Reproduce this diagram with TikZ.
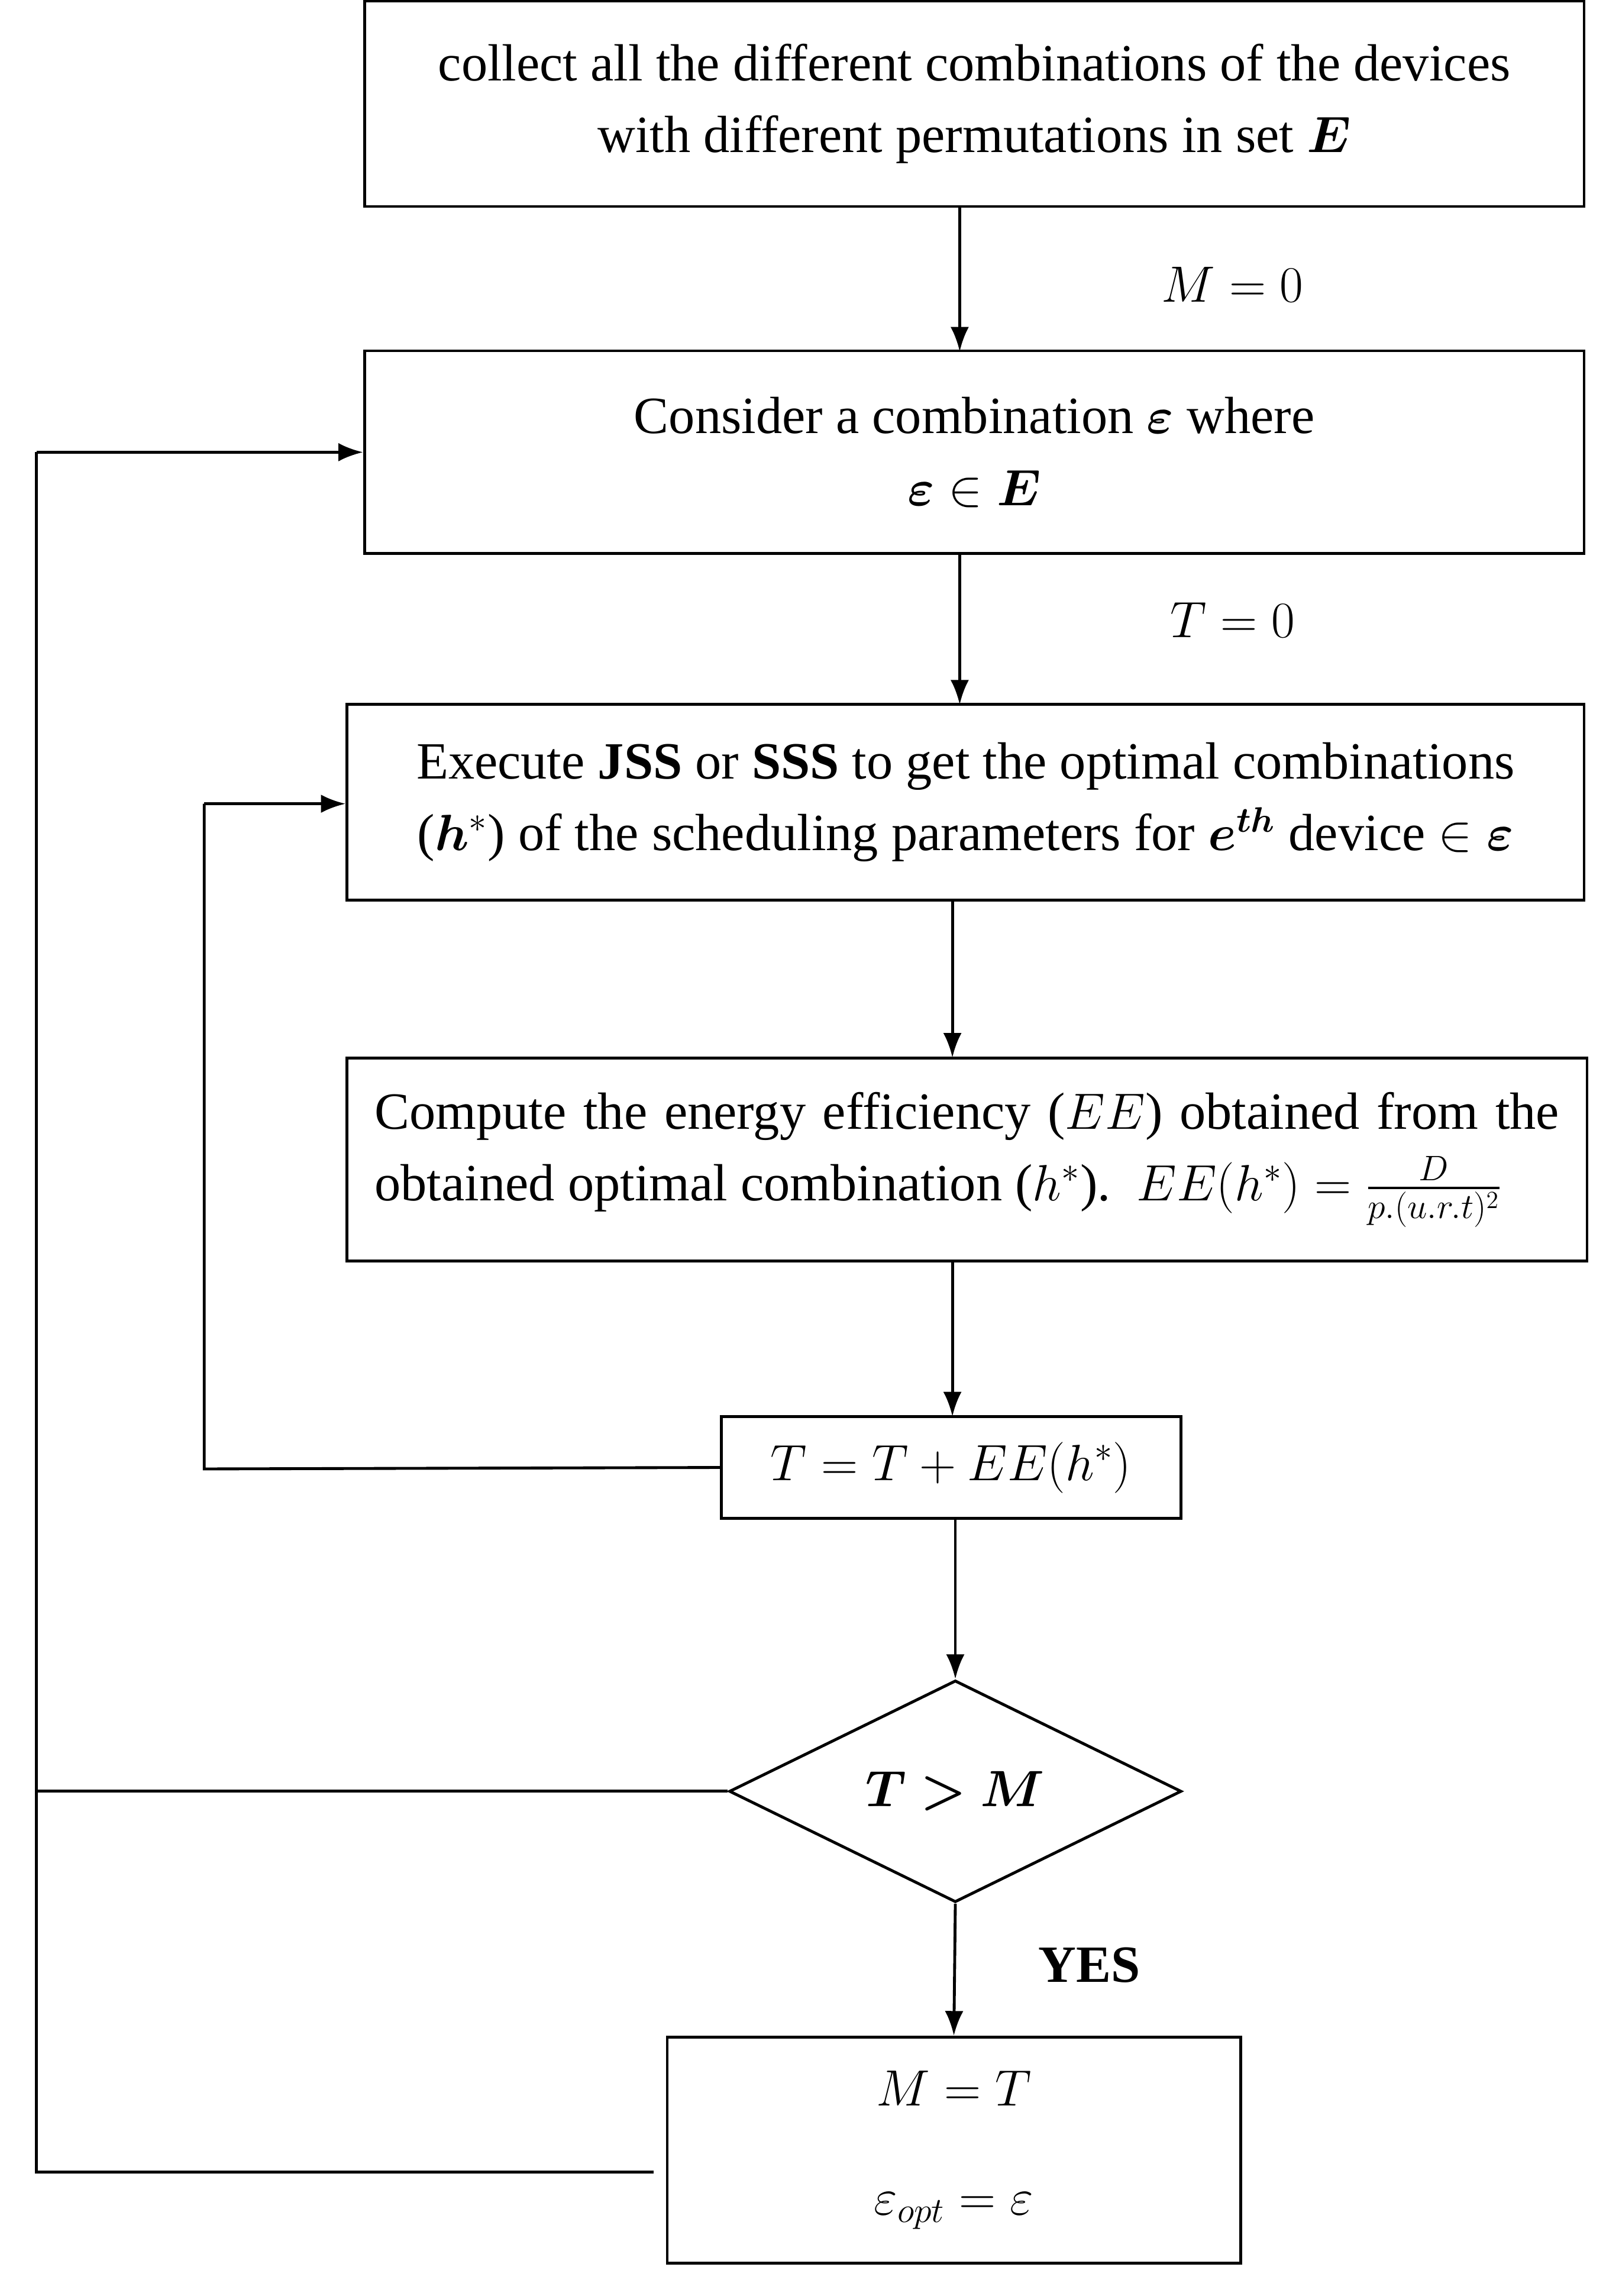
\documentclass[tikz,border=0pt]{standalone}
\usepackage{fontspec}
\usepackage{amsmath,bm}
\setmainfont{Liberation Serif}
\usetikzlibrary{shapes.geometric,arrows.meta}
\begin{document}
\begin{tikzpicture}[x=0.025cm,y=-0.025cm,
  box/.style={draw,line width=1.4pt,inner sep=0pt,align=center,font=\fontsize{25.5}{35}\selectfont},
  arr/.style={line width=1.4pt,-{Latex[length=12pt,width=9pt]}},
  ln/.style={line width=1.4pt},
  lab/.style={font=\fontsize{25.5}{30}\selectfont}]
\useasboundingbox (0,0) rectangle (1110,1574);
\node[box,minimum width=20.9cm,minimum height=3.525cm] (b1) at (668,71)
  {collect all the different combinations of the devices\\with different permutations in set $\bm{E}$};
\node[box,minimum width=20.9cm,minimum height=3.475cm] (b2) at (668,310)
  {Consider a combination $\bm{\varepsilon}$ where\\$\bm{\varepsilon}\in\bm{E}$};
\node[box,minimum width=21.2cm,minimum height=3.35cm] (b3) at (662,550)
  {Execute \textbf{JSS} or \textbf{SSS} to get the optimal combinations\\($\bm{h}^{*}$) of the scheduling parameters for $\bm{e}^{\bm{th}}$ device $\in\bm{\varepsilon}$};
\node[box,minimum width=21.25cm,minimum height=3.475cm,text width=20.3cm,align=justify] (b4) at (663,795)
  {\hyphenpenalty=10000 Compute the energy efficiency ($EE$) obtained from the obtained optimal combination ($h^{*}$).\ \ $EE(h^{*})=\frac{D}{p.(u.r.t)^{2}}$};
\node[box,minimum width=7.875cm,minimum height=1.75cm] (b5) at (652,1006) {$T=T+EE(h^{*})$};
\node[draw,line width=1.4pt,diamond,minimum width=7.75cm,minimum height=3.8cm,inner sep=0pt,font=\fontsize{25.5}{30}\selectfont] (d) at (655,1228) {$\bm{T>M}$};
\node[box,minimum width=9.825cm,minimum height=3.875cm] (b6) at (654,1474)
  {$M=T$\\[18pt]$\varepsilon_{opt}=\varepsilon$};
\draw[arr] (658,141) -- (658,241);
\draw[arr] (658,380) -- (658,483);
\draw[arr] (653,617) -- (653,725);
\draw[arr] (653,864) -- (653,971);
\draw[arr] (655,1041) -- (d.north);
\draw[arr] (d.south) -- (b6.north);
\node[lab] (l1) at (845,195) {$M=0$};
\node[lab] (l2) at (845,425) {$T=0$};
\node[lab] (l3) at (747,1347) {\textbf{YES}};
\coordinate (c1) at (140,1007);
\coordinate (c2) at (140,551);
\draw[ln] (b5.west) -- (c1) -- (c2);
\draw[arr] (c2) -- (b3.west |- c2);
\coordinate (c3) at (25,1228);
\coordinate (c4) at (25,310);
\coordinate (c5) at (25,1489);
\coordinate (c6) at (448,1489);
\draw[ln] (d.west) -- (c3) -- (c4);
\draw[ln] (c6) -- (c5) -- (c3);
\draw[arr] (c4) -- (b2.west |- c4);
\end{tikzpicture}
\end{document}
